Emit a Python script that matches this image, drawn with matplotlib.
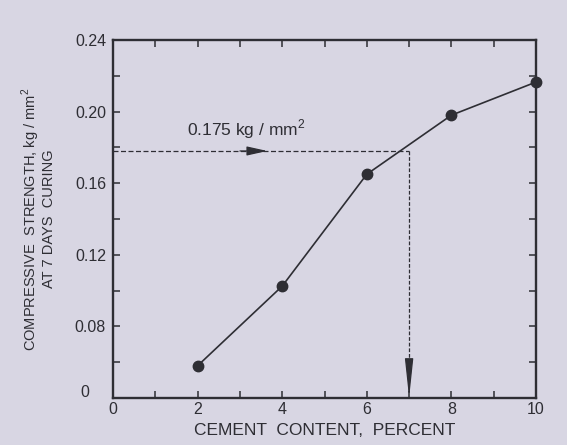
import matplotlib
matplotlib.use("Agg")
import matplotlib.pyplot as plt
from matplotlib.ticker import FixedLocator, FixedFormatter

plt.rcParams['font.family'] = ['Liberation Sans', 'DejaVu Sans']

# data (y axis drawn with bottom labelled "0" at the 0.04 position, as in the source)
cement = [2, 4, 6, 8, 10]
strength = [0.058, 0.1025, 0.165, 0.198, 0.2165]
target_strength = 0.178
target_cement = 7
x_ticks = list(range(0, 11))
x_labels = ['0', '', '2', '', '4', '', '6', '', '8', '', '10']
y_ticks = [0.04, 0.06, 0.08, 0.10, 0.12, 0.14, 0.16, 0.18, 0.20, 0.22, 0.24]
y_labels = ['', '', '0.08', '', '0.12', '', '0.16', '', '0.20', '', '0.24']

bg = '#d8d6e3'
ink = '#2e2e34'

fig = plt.figure(figsize=(5.67, 4.45), dpi=100, facecolor=bg)
ax = fig.add_axes([113/567, 1-398/445, (536-113)/567, (398-40)/445])
ax.set_facecolor(bg)
ax.set_xlim(0, 10)
ax.set_ylim(0.04, 0.24)

for s in ax.spines.values():
    s.set_linewidth(1.7)
    s.set_color(ink)

ax.xaxis.set_major_locator(FixedLocator(x_ticks))
ax.xaxis.set_major_formatter(FixedFormatter(x_labels))
ax.yaxis.set_major_locator(FixedLocator(y_ticks))
ax.yaxis.set_major_formatter(FixedFormatter(y_labels))
ax.tick_params(axis='both', direction='in', length=5, width=1.1, color=ink,
               labelsize=11.5, labelcolor=ink, top=True, right=True)
ax.tick_params(axis='x', pad=3)
ax.tick_params(axis='y', pad=5)
ax.text(-0.55, 0.043, '0', fontsize=11.5, color=ink, ha='right', va='center')

# curve
ax.plot(cement, strength, color=ink, lw=1.2, marker='o', ms=7.5,
        mfc=ink, mec=ink, zorder=3, clip_on=False)

# dashed guide lines
ax.plot([0, target_cement], [target_strength, target_strength], color=ink,
        lw=0.9, ls=(0, (4, 2)))
ax.plot([target_cement, target_cement], [target_strength, 0.05], color=ink,
        lw=0.9, ls=(0, (3, 1.5)))
ax.annotate('', xy=(3.65, target_strength), xytext=(3.0, target_strength),
            arrowprops=dict(arrowstyle='-|>,head_length=0.9,head_width=0.2',
                            color=ink, lw=0.9, mutation_scale=14,
                            shrinkA=0, shrinkB=0))
ax.annotate('', xy=(target_cement, 0.04), xytext=(target_cement, 0.06),
            arrowprops=dict(arrowstyle='-|>,head_length=1.5,head_width=0.16',
                            color=ink, lw=0.9, mutation_scale=16,
                            shrinkA=0, shrinkB=0))
ax.text(1.75, 0.1835, '0.175 kg / mm$^\\mathregular{2}$', fontsize=12.5, color=ink,
        ha='left', va='bottom')

ax.set_xlabel('CEMENT  CONTENT,  PERCENT', fontsize=12.5, color=ink, labelpad=4)
fig.text(38/567, 1-219/445, 'COMPRESSIVE  STRENGTH, kg / mm$^\\mathregular{2}$\nAT 7 DAYS  CURING',
         rotation=90, ha='center', va='center', fontsize=10.5, color=ink,
         linespacing=1.05, multialignment='center')

fig.savefig('out.png', dpi=100, facecolor=bg)
